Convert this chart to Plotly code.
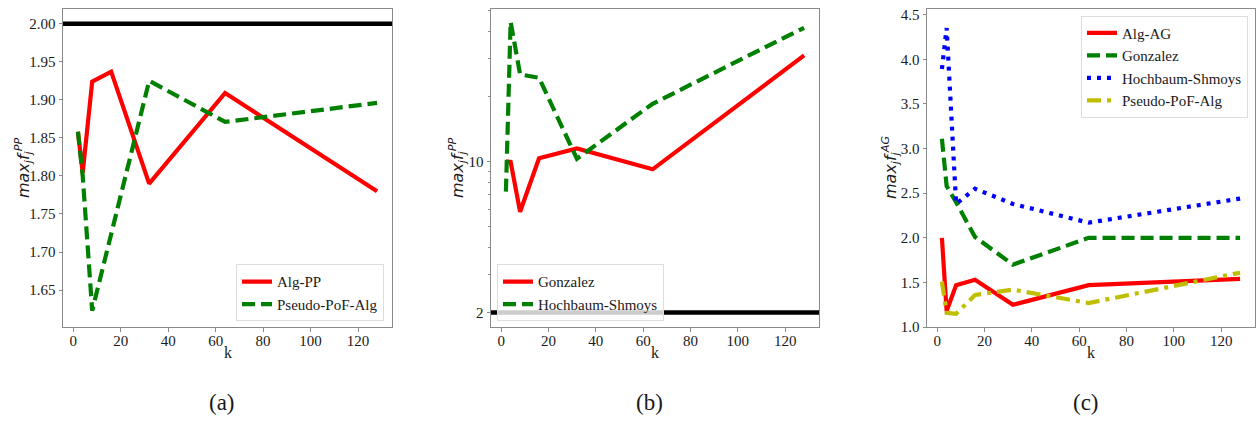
import plotly.graph_objects as go
import math

k = [2, 4, 8, 16, 32, 64, 128]

# Panel (a)
a_alg_pp = [1.858, 1.804, 1.924, 1.937, 1.790, 1.909, 1.780]
a_pseudo = [1.858, 1.800, 1.623, 1.722, 1.925, 1.871, 1.896]
a_ref = 2.0
a_yticks = [1.65, 1.70, 1.75, 1.80, 1.85, 1.90, 1.95, 2.00]

# Panel (b)
b_gonzalez = [10.0, 9.95, 5.85, 10.35, 11.5, 9.2, 31.0]
b_hochbaum = [7.25, 44.3, 25.3, 24.4, 10.3, 18.5, 41.6]
b_ref = 2.0
b_yticks = [2, 10]
b_minor = [3, 4, 5, 6, 7, 8, 9, 20, 30, 40, 50]

# Panel (c)
c_alg_ag = [2.0, 1.18, 1.47, 1.53, 1.25, 1.47, 1.54]
c_gonzalez = [3.11, 2.58, 2.40, 2.01, 1.70, 2.0, 2.0]
c_hochbaum = [3.89, 4.35, 2.38, 2.55, 2.38, 2.17, 2.44]
c_pseudo = [1.51, 1.16, 1.15, 1.36, 1.42, 1.27, 1.61]
c_yticks = [1.0, 1.5, 2.0, 2.5, 3.0, 3.5, 4.0, 4.5]

xticks = [0, 20, 40, 60, 80, 100, 120]

W, H = 1258, 424
SERIF = "Liberation Serif"
GREY = "#8a8a8a"
TXT = "#1a1a1a"
RED = "#ff0000"
GREEN = "#008000"
BLUE = "#0000ff"
YELLOW = "#bfbf00"
LW = 4.2

def px_x(p):
    return p / W

def px_y(p):
    return 1 - p / H

doms = [(63, 392), (491, 819), (927, 1255)]
ydom = [px_y(333), px_y(7)]

fig = go.Figure()

# (a)
fig.add_trace(go.Scatter(x=k, y=a_alg_pp, mode="lines", name="Alg-PP",
                         line=dict(color=RED, width=LW), xaxis="x", yaxis="y", legend="legend"))
fig.add_trace(go.Scatter(x=k, y=a_pseudo, mode="lines", name="Pseudo-PoF-Alg",
                         line=dict(color=GREEN, width=LW, dash="13px,6px"), xaxis="x", yaxis="y", legend="legend"))
# (b)
fig.add_trace(go.Scatter(x=k, y=b_gonzalez, mode="lines", name="Gonzalez",
                         line=dict(color=RED, width=LW), xaxis="x2", yaxis="y2", legend="legend2"))
fig.add_trace(go.Scatter(x=k, y=b_hochbaum, mode="lines", name="Hochbaum-Shmoys",
                         line=dict(color=GREEN, width=LW, dash="13px,6px"), xaxis="x2", yaxis="y2", legend="legend2"))
# (c)
fig.add_trace(go.Scatter(x=k, y=c_alg_ag, mode="lines", name="Alg-AG",
                         line=dict(color=RED, width=LW), xaxis="x3", yaxis="y3", legend="legend3"))
fig.add_trace(go.Scatter(x=k, y=c_gonzalez, mode="lines", name="Gonzalez",
                         line=dict(color=GREEN, width=LW, dash="13px,6px"), xaxis="x3", yaxis="y3", legend="legend3"))
fig.add_trace(go.Scatter(x=k, y=c_hochbaum, mode="lines", name="Hochbaum-Shmoys",
                         line=dict(color=BLUE, width=LW, dash="4px,6px"), xaxis="x3", yaxis="y3", legend="legend3"))
fig.add_trace(go.Scatter(x=k, y=c_pseudo, mode="lines", name="Pseudo-PoF-Alg",
                         line=dict(color=YELLOW, width=LW, dash="14px,6px,4px,6px"), xaxis="x3", yaxis="y3", legend="legend3"))

# black reference lines
fig.add_shape(type="line", xref="x domain", x0=0, x1=1, yref="y", y0=a_ref, y1=a_ref,
              line=dict(color="black", width=4.5), layer="above")
fig.add_shape(type="line", xref="x2 domain", x0=0, x1=1, yref="y2", y0=b_ref, y1=b_ref,
              line=dict(color="black", width=4.5), layer="above")

tickfont = dict(family=SERIF, size=15, color=TXT)
axis_common = dict(showline=True, mirror=True, linecolor=GREY, linewidth=1,
                   ticks="outside", ticklen=3.5, tickcolor=GREY, tickwidth=1,
                   showgrid=False, zeroline=False, tickfont=tickfont)

xr = [-4.3, 134.3]
for i, (x0, x1) in enumerate(doms):
    name = "xaxis" if i == 0 else f"xaxis{i+1}"
    yname = "y" if i == 0 else f"y{i+1}"
    fig.layout[name] = dict(domain=[px_x(x0), px_x(x1)], anchor=yname, range=xr,
                            tickmode="array", tickvals=xticks, ticklabelstandoff=-4,
                            **axis_common)

fig.layout["yaxis"] = dict(domain=ydom, anchor="x", range=[1.6013, 2.0196],
                           tickmode="array", tickvals=a_yticks,
                           ticktext=[f"{v:.2f}" for v in a_yticks], **axis_common)
fig.layout["yaxis2"] = dict(domain=ydom, anchor="x2", type="log",
                            range=[math.log10(1.711), math.log10(50.9)],
                            tickmode="array", tickvals=b_yticks,
                            ticktext=[str(v) for v in b_yticks],
                            minor=dict(tickmode="array", tickvals=b_minor, ticks="outside",
                                       ticklen=2, tickcolor=GREY, showgrid=False),
                            **axis_common)
fig.layout["yaxis3"] = dict(domain=ydom, anchor="x3", range=[1.0, 4.565],
                            tickmode="array", tickvals=c_yticks,
                            ticktext=[f"{v:.1f}" for v in c_yticks], **axis_common)

legfont = dict(family=SERIF, size=15, color=TXT)
legbase = dict(font=legfont, bgcolor="rgba(255,255,255,0.8)", bordercolor="#dddddd",
               borderwidth=1, tracegroupgap=0, itemwidth=30)
fig.update_layout(
    legend=dict(x=px_x(384), y=px_y(327), xanchor="right", yanchor="bottom", **legbase),
    legend2=dict(x=px_x(497), y=px_y(327), xanchor="left", yanchor="bottom", **legbase),
    legend3=dict(x=px_x(1248), y=px_y(14), xanchor="right", yanchor="top", **legbase),
)

ann = []
for (x0, x1) in doms:
    cx = px_x((x0 + x1) / 2)
    ann.append(dict(x=cx, y=px_y(359), xref="paper", yref="paper", text="k", showarrow=False,
                    font=dict(family=SERIF, size=16, color=TXT), xanchor="center", yanchor="middle"))
for cxp, cap in [(222, "(a)"), (649, "(b)"), (1086, "(c)")]:
    ann.append(dict(x=px_x(cxp), y=px_y(410), xref="paper", yref="paper", text=cap, showarrow=False,
                    font=dict(family=SERIF, size=23, color=TXT), xanchor="center", yanchor="middle"))
# y labels
for xc, sup in [(24, "PP"), (458, "PP"), (891, "AG")]:
    ann.append(dict(x=px_x(xc), y=px_y(170), xref="paper", yref="paper",
                    text=f"<i>max<sub>j</sub>f<sub>j</sub><sup>{sup}</sup></i>",
                    showarrow=False, textangle=-90,
                    font=dict(family="DejaVu Sans", size=16, color=TXT),
                    xanchor="center", yanchor="middle"))

fig.update_layout(annotations=ann, width=W, height=H,
                  margin=dict(l=0, r=0, t=0, b=0),
                  paper_bgcolor="white", plot_bgcolor="white", showlegend=True)

fig.write_html("out.html")
